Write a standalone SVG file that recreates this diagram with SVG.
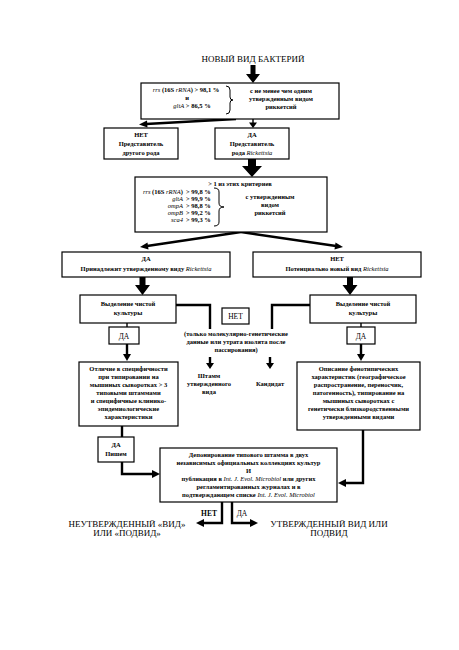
<svg xmlns="http://www.w3.org/2000/svg" width="459" height="650" viewBox="0 0 459 650">
<style>
.bg{fill:#fff}
.box{fill:#fff;stroke:#000;stroke-width:1.2}
.t{font-family:"Liberation Serif","Times New Roman",serif;font-size:6.5px;font-weight:bold;fill:#000;text-anchor:middle}
.tl{font-family:"Liberation Serif","Times New Roman",serif;font-size:6.5px;font-weight:bold;fill:#000}
.big{font-family:"Liberation Serif","Times New Roman",serif;font-size:9px;fill:#000;text-anchor:middle}
.lab{font-family:"Liberation Serif","Times New Roman",serif;font-size:7.5px;fill:#000;text-anchor:middle}
.i{font-style:italic;font-weight:normal}
.ln{fill:none;stroke:#000;stroke-width:2.4}
.thin{fill:none;stroke:#000;stroke-width:1.4}
.ah{fill:#000}
</style>
<rect class="bg" x="0" y="0" width="459" height="650"/>

<g id="title">
<text class="big" x="253" y="62">НОВЫЙ ВИД БАКТЕРИЙ</text>
</g>

<g id="connectors">
<polygon class="ah" points="250.5,65 255.5,65 255.5,74 260,74 253,83 246,74 250.5,74"/>
<line class="ln" x1="236" y1="119" x2="146" y2="124"/>
<polygon class="ah" points="139,124.5 147,120.5 147.5,127.5"/>
<line class="thin" x1="253" y1="119" x2="253" y2="123"/>
<polygon class="ah" points="249,122.5 257,122.5 253,128"/>
<polygon class="ah" points="248,159 256,159 256,166 262,166 252,177 242,166 248,166"/>
<line class="ln" x1="241" y1="232" x2="147" y2="246"/>
<polygon class="ah" points="140,247 147.5,242.5 148.5,249.5"/>
<line class="ln" x1="241" y1="232" x2="336" y2="246"/>
<polygon class="ah" points="343,247 335.5,242.5 334.5,249.5"/>
<polygon class="ah" points="139.5,277 145.5,277 145.5,285 150,285 142.5,295 135,285 139.5,285"/>
<polygon class="ah" points="347,277 353,277 353,285 357.5,285 350,295 342.5,285 347,285"/>
<polyline class="ln" points="176,305 210,305 210,329"/>
<polyline class="ln" points="310,305 272,305 272,329"/>
<line class="thin" x1="127" y1="323" x2="127" y2="327"/>
<line class="thin" x1="361" y1="323" x2="361" y2="327"/>
<line class="ln" x1="127" y1="344" x2="127" y2="355"/>
<polygon class="ah" points="123,354 131,354 127,361"/>
<line class="ln" x1="361" y1="344" x2="361" y2="355"/>
<polygon class="ah" points="357,354 365,354 361,361"/>
<line class="ln" x1="210" y1="357" x2="210" y2="364"/>
<polygon class="ah" points="206,363 214,363 210,369"/>
<line class="ln" x1="270" y1="357" x2="270" y2="364"/>
<polygon class="ah" points="266,363 274,363 270,369"/>
<line class="ln" x1="122" y1="426" x2="122" y2="437"/>
<polyline class="ln" points="122,462 122,474 153,474"/>
<polygon class="ah" points="160,474 152,470 152,478"/>
<polyline class="ln" points="363,430 363,483 345,483"/>
<polygon class="ah" points="338,483 346,479 346,487"/>
<polyline class="ln" points="222,502 222,523 203,523"/>
<polygon class="ah" points="196,523 204,519 204,527"/>
<polyline class="ln" points="232,502 232,523 251,523"/>
<polygon class="ah" points="258,523 250,519 250,527"/>
</g>

<g id="n1">
<rect class="box" x="141" y="83" width="198" height="36"/>
<text class="t" x="186" y="92"><tspan class="i">rrs</tspan> (16S <tspan class="i">rRNA</tspan>) &gt; 98,1 %</text>
<text class="t" x="187" y="100">и</text>
<text class="t" x="192" y="108"><tspan class="i">gltA</tspan> &gt; 86,5 %</text>
<path class="thin" d="M226,86 Q230,86 230,90 L230,97 Q230,100 233,100 Q230,100 230,103 L230,110 Q230,114 226,114" style="stroke-width:1"/>
<text class="t" x="281" y="93">с не менее чем одним</text>
<text class="t" x="281" y="101">утвержденным видом</text>
<text class="t" x="281" y="109">риккетсий</text>
</g>

<g id="n2">
<rect class="box" x="104" y="128" width="74" height="31"/>
<text class="t" x="141" y="137">НЕТ</text>
<text class="t" x="141" y="146">Представитель</text>
<text class="t" x="141" y="155">другого рода</text>
</g>

<g id="n3">
<rect class="box" x="215" y="128" width="74" height="31"/>
<text class="t" x="252" y="137">ДА</text>
<text class="t" x="252" y="146">Представитель</text>
<text class="t" x="252" y="155">рода <tspan class="i">Rickettsia</tspan></text>
</g>

<g id="n4">
<rect class="box" x="135" y="177" width="192" height="55"/>
<text class="t" x="240" y="186">&gt; 1 из этих критериев</text>
<text class="tl" x="183" y="194" text-anchor="end"><tspan class="i">rrs</tspan> (16S <tspan class="i">rRNA</tspan>)</text>
<text class="tl" x="183" y="201" text-anchor="end"><tspan class="i">gltA</tspan></text>
<text class="tl" x="183" y="208" text-anchor="end"><tspan class="i">ompA</tspan></text>
<text class="tl" x="183" y="215" text-anchor="end"><tspan class="i">ompB</tspan></text>
<text class="tl" x="183" y="222" text-anchor="end"><tspan class="i">sca4</tspan></text>
<text class="tl" x="186" y="194">&gt;  99,8 %</text>
<text class="tl" x="186" y="201">&gt;  99,9 %</text>
<text class="tl" x="186" y="208">&gt;  98,8 %</text>
<text class="tl" x="186" y="215">&gt;  99,2 %</text>
<text class="tl" x="186" y="222">&gt;  99,3 %</text>
<path class="thin" d="M214,188 Q219,188 219,192 L219,203 Q219,207 224,207 Q219,207 219,211 L219,222 Q219,226 214,226" style="stroke-width:1"/>
<text class="t" x="270" y="199">с утвержденным</text>
<text class="t" x="270" y="207">видом</text>
<text class="t" x="270" y="215">риккетсий</text>
</g>

<g id="n5">
<rect class="box" x="62" y="252" width="168" height="25"/>
<text class="t" x="146" y="261">ДА</text>
<text class="t" x="146" y="271">Принадлежит утвержденному виду <tspan class="i">Rickettsia</tspan></text>
</g>

<g id="n6">
<rect class="box" x="253" y="252" width="168" height="25"/>
<text class="t" x="337" y="261">НЕТ</text>
<text class="t" x="337" y="271">Потенциально новый вид <tspan class="i">Rickettsia</tspan></text>
</g>

<g id="n7">
<rect class="box" x="80" y="295" width="96" height="28"/>
<text class="t" x="128" y="306">Выделение чистой</text>
<text class="t" x="128" y="315">культуры</text>
</g>

<g id="n8">
<rect class="box" x="310" y="295" width="106" height="28"/>
<text class="t" x="363" y="306">Выделение чистой</text>
<text class="t" x="363" y="315">культуры</text>
</g>

<g id="n9">
<rect class="box" x="222" y="308" width="27" height="16"/>
<text class="lab" x="235.5" y="319">НЕТ</text>
</g>

<g id="n10">
<text class="t" x="236" y="336">(только молекулярно-генетические</text>
<text class="t" x="236" y="344">данные или утрата изолята после</text>
<text class="t" x="236" y="352">пассирования)</text>
</g>

<g id="n11">
<rect class="box" x="109" y="327" width="30" height="17"/>
<text class="lab" x="124" y="338.5">ДА</text>
</g>

<g id="n12">
<rect class="box" x="347" y="327" width="28" height="17"/>
<text class="lab" x="361" y="338.5">ДА</text>
</g>

<g id="n13">
<text class="t" x="209" y="378">Штамм</text>
<text class="t" x="209" y="386">утвержденного</text>
<text class="t" x="209" y="394">вида</text>
</g>

<g id="n14">
<text class="t" x="270" y="386">Кандидат</text>
</g>

<g id="n15">
<rect class="box" x="79" y="362" width="99" height="64"/>
<text class="t" x="128.5" y="371">Отличие в специфичности</text>
<text class="t" x="128.5" y="379">при типировании на</text>
<text class="t" x="128.5" y="387">мышиных сыворотках &gt; 3</text>
<text class="t" x="128.5" y="395">типовыми штаммами</text>
<text class="t" x="128.5" y="403">и специфичные клинико-</text>
<text class="t" x="128.5" y="411">эпидемиологические</text>
<text class="t" x="128.5" y="419">характеристики</text>
</g>

<g id="n16">
<rect class="box" x="297" y="362" width="123" height="68"/>
<text class="t" x="358.5" y="371">Описание фенотипических</text>
<text class="t" x="358.5" y="379">характеристик (географическое</text>
<text class="t" x="358.5" y="387">распространение, переносчик,</text>
<text class="t" x="358.5" y="395">патогенность), типирование на</text>
<text class="t" x="358.5" y="403">мышиных сыворотках с</text>
<text class="t" x="358.5" y="411">генетически близкородственными</text>
<text class="t" x="358.5" y="419">утвержденными видами</text>
</g>

<g id="n17">
<rect class="box" x="98" y="437" width="36" height="25"/>
<text class="t" x="116" y="447">ДА</text>
<text class="t" x="116" y="456">Пишем</text>
</g>

<g id="n18">
<rect class="box" x="160" y="448" width="177" height="54"/>
<text class="t" x="248.5" y="457">Депонирование типового штамма в двух</text>
<text class="t" x="248.5" y="465">независимых официальных коллекциях культур</text>
<text class="t" x="248.5" y="473">И</text>
<text class="t" x="248.5" y="481">публикация в <tspan class="i">Int. J. Evol. Microbiol</tspan> или других</text>
<text class="t" x="248.5" y="489">регламентированных журналах и в</text>
<text class="t" x="248.5" y="497">подтверждающем списке <tspan class="i">Int. J. Evol. Microbiol</tspan></text>
</g>

<g id="labels">
<text class="t" x="209" y="516" style="font-size:7.5px">НЕТ</text>
<text class="lab" x="242" y="516">ДА</text>
</g>

<g id="n19">
<text class="big" x="127" y="527">НЕУТВЕРЖДЕННЫЙ «ВИД»</text>
<text class="big" x="127" y="536">ИЛИ «ПОДВИД»</text>
</g>

<g id="n20">
<text class="big" x="329" y="527">УТВЕРЖДЕННЫЙ ВИД ИЛИ</text>
<text class="big" x="329" y="536">ПОДВИД</text>
</g>
</svg>
